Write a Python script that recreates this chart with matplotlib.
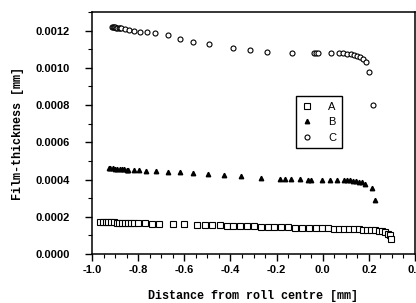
import numpy as np
import matplotlib
matplotlib.use('Agg')
import matplotlib.pyplot as plt
from matplotlib.ticker import MultipleLocator, FormatStrFormatter

# series A (squares)
a_x = [-0.965, -0.953, -0.941, -0.929, -0.917, -0.905, -0.893, -0.881, -0.869, -0.857,
       -0.845, -0.833, -0.82, -0.80, -0.77, -0.74, -0.71, -0.647, -0.60, -0.545,
       -0.51, -0.48, -0.447, -0.417, -0.387, -0.357, -0.328, -0.30, -0.268, -0.238,
       -0.209, -0.179, -0.149, -0.119, -0.089, -0.06, -0.03, -0.004, 0.021, 0.047,
       0.072, 0.094, 0.115, 0.136, 0.157, 0.174, 0.191, 0.209, 0.225, 0.243,
       0.255, 0.268, 0.281, 0.29, 0.298]
a_y = [0.000172, 0.000172, 0.000171, 0.000171, 0.000170, 0.000170, 0.000169, 0.000169, 0.000168, 0.000168,
       0.000167, 0.000167, 0.000166, 0.000165, 0.000164, 0.000163, 0.000162, 0.000160, 0.000159, 0.000157,
       0.000156, 0.000155, 0.000154, 0.000153, 0.000152, 0.000151, 0.000150, 0.000149, 0.000147, 0.000146,
       0.000145, 0.000144, 0.000143, 0.000142, 0.000141, 0.000140, 0.000139, 0.000138, 0.000137, 0.000136,
       0.000135, 0.000134, 0.000134, 0.000133, 0.000132, 0.000131, 0.000130, 0.000129, 0.000128, 0.000126,
       0.000123, 0.000118, 0.000110, 0.000100, 0.000078]

# series B (triangles)
b_x = [-0.928, -0.92, -0.91, -0.90, -0.89, -0.88, -0.87, -0.86, -0.85, -0.843,
       -0.82, -0.796, -0.766, -0.723, -0.672, -0.617, -0.562, -0.498, -0.426, -0.353,
       -0.268, -0.183, -0.162, -0.136, -0.098, -0.064, -0.051, -0.004, 0.03, 0.06,
       0.094, 0.106, 0.119, 0.132, 0.145, 0.157, 0.17, 0.183, 0.213, 0.226]
b_y = [0.000462, 0.000461, 0.000460, 0.000458, 0.000457, 0.000456, 0.000455, 0.000454, 0.000453, 0.000452,
       0.000451, 0.000449, 0.000447, 0.000446, 0.000443, 0.000440, 0.000435, 0.000430, 0.000424, 0.000419,
       0.000408, 0.000403, 0.000403, 0.000402, 0.000401, 0.000400, 0.000400, 0.000399, 0.000398, 0.000398,
       0.000397, 0.000396, 0.000395, 0.000394, 0.000392, 0.000389, 0.000385, 0.000378, 0.000355, 0.000290]

# series C (circles)
c_x = [-0.915, -0.91, -0.905, -0.90, -0.895, -0.89, -0.885, -0.88, -0.875, -0.855,
       -0.838, -0.817, -0.791, -0.762, -0.728, -0.672, -0.617, -0.562, -0.494, -0.391,
       -0.315, -0.243, -0.132, -0.038, -0.03, -0.021, 0.034, 0.072, 0.089, 0.106,
       0.123, 0.136, 0.149, 0.162, 0.174, 0.187, 0.20, 0.217]
c_y = [0.001220, 0.001219, 0.001218, 0.001217, 0.001216, 0.001215, 0.001214, 0.001213, 0.001212, 0.001208,
       0.001205, 0.001200, 0.001195, 0.001190, 0.001187, 0.001176, 0.001155, 0.001139, 0.001128, 0.001107,
       0.001096, 0.001085, 0.001080, 0.001080, 0.001080, 0.001080, 0.001080, 0.001080, 0.001080, 0.001074,
       0.001074, 0.001069, 0.001064, 0.001058, 0.001048, 0.001031, 0.000978, 0.000800]

series_labels = ['A', 'B', 'C']

plt.rcParams['font.family'] = ['Liberation Sans', 'DejaVu Sans']

fig = plt.figure(figsize=(4.16, 3.03), dpi=100)
ax = fig.add_axes([92 / 416, 1 - 254 / 303, (415 - 92) / 416, (254 - 12) / 303])

ax.plot(a_x, a_y, linestyle='none', marker='s', markersize=4.5, markerfacecolor='white',
        markeredgecolor='black', markeredgewidth=0.8, label=series_labels[0])
ax.plot(b_x, b_y, linestyle='none', marker='^', markersize=3.2, color='black',
        label=series_labels[1])
ax.plot(c_x, c_y, linestyle='none', marker='o', markersize=3.6, markerfacecolor='white',
        markeredgecolor='black', markeredgewidth=0.8, label=series_labels[2])

ax.set_xlim(-1.0, 0.4)
ax.set_ylim(0, 0.0013)
ax.xaxis.set_major_locator(MultipleLocator(0.2))
ax.xaxis.set_minor_locator(MultipleLocator(0.05))
ax.yaxis.set_major_locator(MultipleLocator(0.0002))
ax.yaxis.set_minor_locator(MultipleLocator(0.0001))
ax.xaxis.set_major_formatter(FormatStrFormatter('%.1f'))
ax.yaxis.set_major_formatter(FormatStrFormatter('%.4f'))

ax.tick_params(which='major', direction='out', length=5, width=1, labelsize=8)
ax.tick_params(which='minor', direction='out', length=3, width=0.8)
ax.tick_params(axis='y', which='major', pad=11)
ax.tick_params(axis='x', which='major', pad=3)
for lab in ax.get_xticklabels() + ax.get_yticklabels():
    lab.set_fontweight('bold')

for sp in ax.spines.values():
    sp.set_linewidth(1.1)

ax.set_xlabel('Distance from roll centre [mm]', family='Liberation Mono', fontsize=8.5,
              fontweight='bold', labelpad=11)
ax.set_ylabel('Film-thickness [mm]', family='Liberation Mono', fontsize=8.5,
              fontweight='bold', labelpad=8)

leg = ax.legend(loc='upper left', bbox_to_anchor=(296 / 416, 1 - 96 / 303),
                bbox_transform=fig.transFigure, fancybox=False, edgecolor='black',
                framealpha=1, fontsize=8, handlelength=1.0, handletextpad=1.4,
                borderpad=0.5, labelspacing=0.5, borderaxespad=0)
leg.get_frame().set_linewidth(1.0)

fig.savefig('out.png', dpi=100)
